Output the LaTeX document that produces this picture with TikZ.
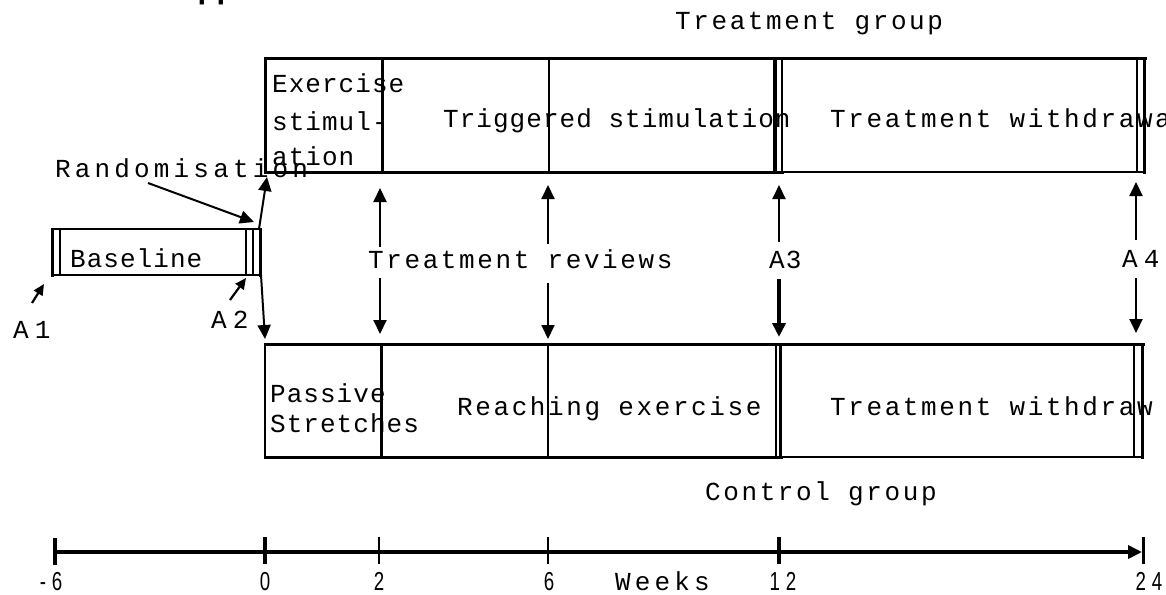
\documentclass[tikz,border=0pt]{standalone}
\usepackage{fontspec}
\setmainfont{Liberation Mono}
\newfontfamily\monofnt[LetterSpace=4]{Liberation Mono}
\newfontfamily\widefnt[LetterSpace=10]{Liberation Mono}
\newfontfamily\widerfnt[LetterSpace=16]{Liberation Mono}
\newfontfamily\numfnt[FakeStretch=0.72,LetterSpace=22]{Liberation Sans}
\newfontfamily\headfnt{Liberation Sans Bold}
\usetikzlibrary{arrows.meta}
\begin{document}
\begin{tikzpicture}[x=1pt,y=-1pt,
  lbl/.style={font=\monofnt\fontsize{26}{30}\selectfont, inner sep=0pt, anchor=base west},
  wlbl/.style={lbl, font=\widefnt\fontsize{26}{30}\selectfont},
  wwlbl/.style={lbl, font=\widerfnt\fontsize{26}{30}\selectfont},
  num/.style={font=\numfnt\fontsize{26}{28}\selectfont, inner sep=0pt, anchor=base},
  thk/.style={line width=3pt, line cap=rect},
  mid/.style={line width=2pt},
  thn/.style={line width=1.3pt},
  arr/.style={line width=2pt, -{Triangle[length=14pt,width=13pt]}},
  sarr/.style={line width=2.2pt, -{Triangle[length=11pt,width=10pt]}},
]
\useasboundingbox (0,0) rectangle (1166,594);

% cut-off heading fragment
\node[font=\headfnt\fontsize{31}{31}\selectfont, inner sep=0pt, anchor=base west] (head) at (197.5,-1) {pp};

% ---------------- Treatment group box
\draw[thk] (265,59) -- (1145,59);
\draw[thk] (265,59) -- (265,172);
\draw[thk] (265,172) -- (782,172);
\draw[mid] (782,172) -- (1145,172);
\draw[thk] (382,59) -- (382,172);
\draw[thn] (549,59) -- (549,172);
\draw[line width=4pt] (775,59) -- (775,172);
\draw[thn] (782,59) -- (782,172);
\draw[thn] (1137,59) -- (1137,172);
\draw[thk] (1144,59) -- (1144,172);

% ---------------- Control group box
\draw[thk] (265,344) -- (1143,344);
\draw[mid] (265,344) -- (265,457);
\draw[thk] (265,457) -- (781,457);
\draw[mid] (781,457) -- (1143,457);
\draw[thk] (381,344) -- (381,457);
\draw[mid] (548,344) -- (548,457);
\draw[thn] (776,344) -- (776,457);
\draw[thk] (780.5,344) -- (780.5,457);
\draw[thn] (1134,344) -- (1134,457);
\draw[thk] (1142.5,344) -- (1142.5,457);

% ---------------- Baseline box
\draw[mid] (52,229) -- (261,229);
\draw[mid] (52,275) -- (261,275);
\draw[thk] (52.5,229) -- (52.5,275);
\draw[thn] (60,229) -- (60,275);
\draw[thn] (246,229) -- (246,275);
\draw[thn] (253,229) -- (253,275);
\draw[thk] (260.5,229) -- (260.5,275);

% ---------------- texts
\node[wlbl] (tgroup) at (675,30) {Treatment group};
\node[lbl] (ex1) at (272,92) {Exercise};
\node[lbl] (ex2) at (272,130) {stimul-};
\node[lbl] (ex3) at (272,165) {ation};
\node[lbl] (trig) at (443,127) {Triggered stimulation};
\node[wlbl] (wd1) at (830,127) {Treatment withdrawal};
\node[wwlbl] (rand) at (55,177) {Randomisation};
\node[lbl] (base) at (70,267) {Baseline};
\node[lbl] (a1) at (13,338) {A\hspace{6pt}1};
\node[lbl] (a2) at (211,328) {A\hspace{6pt}2};
\node[wlbl] (rev) at (368,268) {Treatment reviews};
\node[lbl] (a3) at (769,268) {A3};
\node[lbl] (a4) at (1122,267) {A\hspace{6pt}4};
\node[lbl] (pas1) at (270,402) {Passive};
\node[lbl] (pas2) at (270,432) {Stretches};
\node[wlbl] (reach) at (457,415) {Reaching exercise};
\node[wlbl] (wd2) at (830,415) {Treatment withdraw};
\node[wlbl] (cgroup) at (705,500) {Control group};

% ---------------- arrows
\coordinate (rs) at (148,183);  \coordinate (re) at (254,222);
\coordinate (bu0) at (259,229); \coordinate (bu1) at (267,177);
\coordinate (bd0) at (261,275); \coordinate (bd1) at (265,339);
\coordinate (a1s) at (32,303);  \coordinate (a1e) at (44,284);
\coordinate (a2s) at (230,300); \coordinate (a2e) at (246,278);
\draw[arr] (rs) -- (re);
\draw[arr] (bu0) -- (bu1);
\draw[arr] (bd0) -- (bd1);
\draw[sarr] (a1s) -- (a1e);
\draw[sarr] (a2s) -- (a2e);

\coordinate (r1u0) at (380,247); \coordinate (r1u1) at (380,188);
\coordinate (r1d0) at (380,278); \coordinate (r1d1) at (380,334);
\coordinate (r2u0) at (548,244); \coordinate (r2u1) at (548,185);
\coordinate (r2d0) at (548,283); \coordinate (r2d1) at (548,339);
\coordinate (r3u0) at (779,242); \coordinate (r3u1) at (779,185);
\coordinate (r3d0) at (779,279); \coordinate (r3d1) at (779,337);
\coordinate (r4u0) at (1136,240); \coordinate (r4u1) at (1136,182);
\coordinate (r4d0) at (1136,278); \coordinate (r4d1) at (1136,333);
\draw[arr] (r1u0) -- (r1u1);
\draw[arr] (r1d0) -- (r1d1);
\draw[arr] (r2u0) -- (r2u1);
\draw[arr] (r2d0) -- (r2d1);
\draw[arr] (r3u0) -- (r3u1);
\draw[arr, line width=3.5pt] (r3d0) -- (r3d1);
\draw[arr] (r4u0) -- (r4u1);
\draw[arr] (r4d0) -- (r4d1);

% ---------------- time axis
\coordinate (t0) at (55,552);
\coordinate (t1) at (1143,552);
\draw[line width=3.5pt, -{Triangle[length=14pt,width=13pt]}] (t0) -- ([xshift=-1pt]t1);
\draw[line width=4pt] (55,538) -- (55,565);
\draw[line width=4pt] (265,537) -- (265,564);
\draw[line width=2pt] (379,537) -- (379,564);
\draw[line width=2pt] (548,537) -- (548,564);
\draw[line width=3.5pt] (779,537) -- (779,564);
\draw[line width=3pt] (1143,537) -- (1143,564);

\node[num] (nm6) at (51,590) {-6};
\node[num] (n0) at (265,590) {0};
\node[num] (n2) at (379,590) {2};
\node[num] (n6) at (549,590) {6};
\node[wwlbl] (weeks) at (615,590) {Weeks};
\node[num] (n12) at (783,590) {12};
\node[num] (n24) at (1149,590) {24};
\end{tikzpicture}
\end{document}
